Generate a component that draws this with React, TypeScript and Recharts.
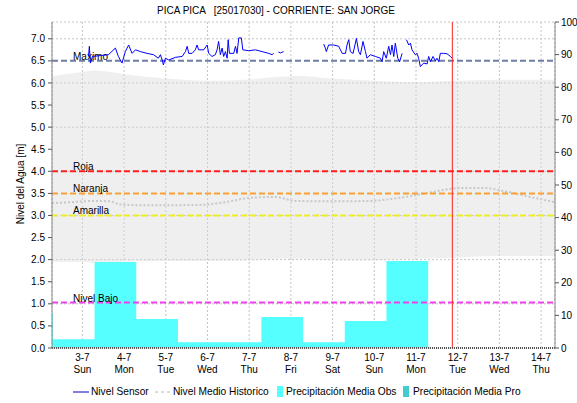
import {
  Area,
  CartesianGrid,
  ComposedChart,
  Line,
  ReferenceLine,
  XAxis,
  YAxis,
} from 'recharts'

// x axis is hours counted from 3-7 00:00
const dayTicks = [0, 24, 48, 72, 96, 120, 144, 168, 192, 216, 240, 264]
const dayLabels = ['3-7', '4-7', '5-7', '6-7', '7-7', '8-7', '9-7', '10-7', '11-7', '12-7', '13-7', '14-7']
const weekdayLabels = ['Sun', 'Mon', 'Tue', 'Wed', 'Thu', 'Fri', 'Sat', 'Sun', 'Mon', 'Tue', 'Wed', 'Thu']
const levelTicks = [0, 0.5, 1, 1.5, 2, 2.5, 3, 3.5, 4, 4.5, 5, 5.5, 6, 6.5, 7]
const precipTicks = [0, 10, 20, 30, 40, 50, 60, 70, 80, 90, 100]

// [hour, level m], null = no reading
const sensorReadings: [number, number | null][] = [
  [3.5, 6.6], [4.0, 6.83], [4.6, 6.45], [5.8, 6.6], [10.4, 6.62], [15.0, 6.64],
  [19.0, 6.79], [20.7, 6.6], [22.8, 6.45], [24.7, 6.71], [26.6, 6.86], [28.6, 6.67],
  [30.5, 6.75], [33.4, 6.71], [37.2, 6.67], [40.9, 6.64], [43.7, 6.56], [44.9, 6.64],
  [45.9, 6.52], [46.6, 6.41], [47.8, 6.56], [49.7, 6.52], [53.5, 6.58], [57.4, 6.6],
  [59.3, 6.71], [60.3, 6.83], [61.2, 6.67], [63.1, 6.67], [65.0, 6.75], [66.0, 6.86],
  [66.9, 6.75], [69.8, 6.75], [71.8, 6.86], [72.7, 6.67], [74.6, 6.6], [76.5, 6.64],
  [77.5, 6.75], [78.4, 6.94], [79.4, 6.64], [80.4, 6.79], [81.3, 6.6], [82.3, 6.71],
  [83.3, 6.56], [83.9, 6.98], [84.6, 6.67], [87.1, 6.67], [88.1, 6.83], [89.0, 6.67],
  [90.0, 7.02], [91.5, 7.02], [92.3, 6.75], [95.7, 6.73], [99.6, 6.75], [103.4, 6.71],
  [107.2, 6.67], [109.2, 6.64], [110.1, 6.67], [111.6, null], [112.8, 6.7], [114.0, 6.68],
  [115.8, 6.71], [127.0, null],
  [138.9, 6.88], [139.8, 6.79], [140.4, 6.71], [141.7, 6.86], [144.6, 6.86], [147.5, 6.83],
  [149.5, 6.67], [151.4, 6.67], [152.3, 6.86], [153.3, 6.98], [154.2, 6.71], [155.8, 6.67],
  [157.7, 7.01], [159.0, 6.71], [160.0, 6.64], [161.5, 6.94], [162.9, 6.71], [163.8, 6.56],
  [165.7, 6.64], [168.6, 6.6], [171.5, 6.56], [172.5, 6.48], [173.4, 6.71], [174.9, 6.56],
  [176.3, 6.83], [177.3, 6.64], [178.2, 6.86], [179.2, 6.6], [180.1, 6.9], [181.5, 6.56],
  [182.6, 6.48], [184.0, 6.67], [185.0, null], [186.5, 6.98], [187.8, 6.86], [188.8, 6.9],
  [189.7, 6.75], [191.6, 6.64], [192.6, 6.67], [193.5, 6.56], [194.5, 6.37], [196.4, 6.45],
  [198.4, 6.43], [199.3, 6.6], [200.3, 6.48], [201.8, 6.6], [203.2, 6.5], [204.1, 6.56],
  [205.1, 6.48], [206.0, 6.67], [207.9, 6.67], [209.9, 6.66], [211.8, 6.6], [212.8, 6.56],
]

const histHours = [-17.5, -7, 7, 16, 21.6, 39, 67.7, 82, 96.4, 111, 122.5, 142.6, 165.5, 182.7, 200, 217, 232, 243, 257.7, 272]
const histLevels = [3.28, 3.3, 3.33, 3.32, 3.25, 3.23, 3.24, 3.3, 3.4, 3.42, 3.33, 3.32, 3.33, 3.4, 3.52, 3.62, 3.62, 3.55, 3.42, 3.3]

// historical min / max envelope
const bandHours = [-17.5, 0, 7, 24, 48, 72, 96, 114, 124, 144, 168, 192, 216, 240, 272]
const bandLow = [1.95, 1.95, 1.93, 1.95, 1.97, 1.97, 1.98, 2.02, 2.02, 1.98, 1.98, 2.02, 2.05, 2.08, 2.08]
const bandHigh = [6.15, 6.25, 6.28, 6.2, 6.1, 6.05, 6.08, 6.14, 6.16, 6.1, 6.05, 6.02, 6.05, 6.07, 6.07]

// daily rain (mm), each value holds from its start hour (07h) to the next
const precipStartHours = [-17.5, -17, 7, 31, 55, 79, 103, 127, 151, 175, 199]
const precipObs = [10.7, 2.7, 26.4, 8.9, 1.8, 1.8, 9.5, 1.8, 8.3, 26.7, 0]

const thresholdNames = ['Maximo', 'Roja', 'Naranja', 'Amarilla', 'Nivel Bajo']
const thresholdLevels = [6.5, 4.0, 3.5, 3.0, 1.03]
const thresholdColors = ['#6f7ca6', '#ff1e1e', '#f7a035', '#eeee22', '#f040f0']

const nowHour = 212.9

const sensorData = sensorReadings.map(([h, level]) => ({ h, level }))
const histData = histHours.map((h, i) => ({ h, hist: histLevels[i] }))
const bandData = bandHours.map((h, i) => ({ h, range: [bandLow[i], bandHigh[i]] }))
const precipData = precipStartHours.map((h, i) => ({ h, mm: precipObs[i] }))

const xDomain = [-17.5, 272]

function DayTick({ x, y, payload }: any) {
  const i = dayTicks.indexOf(payload.value)
  return (
    <g>
      <text x={x} y={y + 13} textAnchor="middle" fontSize={10} fill="#000">
        {dayLabels[i]}
      </text>
      <text x={x} y={y + 25} textAnchor="middle" fontSize={10} fill="#000">
        {weekdayLabels[i]}
      </text>
    </g>
  )
}

function ThresholdLabel({ viewBox, text }: any) {
  if (!viewBox) return null
  return (
    <text x={viewBox.x + 21} y={viewBox.y - 1} fontSize={10} fill="#000">
      {text}
    </text>
  )
}

function LegendLine({ color, dash }: { color: string; dash?: string }) {
  return (
    <svg width={16} height={6} style={{ marginRight: 2 }}>
      <line x1={0} y1={3} x2={16} y2={3} stroke={color} strokeWidth={1} strokeDasharray={dash} />
    </svg>
  )
}

export default function App() {
  return (
    <div
      style={{
        position: 'absolute',
        left: 0,
        top: 0,
        width: 577,
        height: 403,
        background: '#fff',
        fontFamily: '"Liberation Sans", Arial, sans-serif',
      }}
    >
      <div
        style={{
          position: 'absolute',
          left: 0,
          width: 552,
          top: 5,
          textAlign: 'center',
          fontSize: 10,
          whiteSpace: 'pre',
        }}
      >
        {'PICA PICA   [25017030] - CORRIENTE: SAN JORGE'}
      </div>
      <div
        style={{
          position: 'absolute',
          left: 20,
          top: 184,
          transform: 'translate(-50%, -50%) rotate(-90deg)',
          fontSize: 10,
          whiteSpace: 'nowrap',
        }}
      >
        Nivel del Agua [m]
      </div>

      <ComposedChart width={577} height={403} margin={{ top: 22, right: 0, bottom: 25, left: 0 }}>
        <CartesianGrid yAxisId="left" stroke="#c4c4c4" strokeDasharray="2 2" />
        <XAxis
          type="number"
          dataKey="h"
          domain={xDomain}
          ticks={dayTicks}
          allowDataOverflow
          height={30}
          tickSize={0}
          tickMargin={0}
          tickLine={false}
          axisLine={{ stroke: '#555', strokeDasharray: '1 1', strokeWidth: 2 }}
          tick={(props: any) => <DayTick {...props} />}
        />
        <XAxis
          xAxisId="top"
          orientation="top"
          type="number"
          domain={xDomain}
          height={0}
          tick={false}
          tickLine={false}
          axisLine={{ stroke: '#888' }}
        />
        <YAxis
          yAxisId="left"
          type="number"
          domain={[0, 7.38]}
          ticks={levelTicks}
          allowDataOverflow
          width={52}
          tickSize={4}
          tickMargin={3}
          tickFormatter={(v: number) => v.toFixed(1)}
          tick={{ fontSize: 10, fill: '#000' }}
          tickLine={{ stroke: '#555' }}
          axisLine={{ stroke: '#888' }}
        />
        <YAxis
          yAxisId="right"
          orientation="right"
          type="number"
          domain={[0, 100]}
          ticks={precipTicks}
          width={22}
          tickSize={4}
          tickMargin={2}
          tick={{ fontSize: 10, fill: '#000' }}
          tickLine={{ stroke: '#555' }}
          axisLine={{ stroke: '#888' }}
        />

        <Area
          yAxisId="left"
          data={bandData}
          dataKey="range"
          type="monotone"
          stroke="none"
          fill="#d8d8d8"
          fillOpacity={0.42}
          isAnimationActive={false}
        />
        <Area
          yAxisId="right"
          data={precipData}
          dataKey="mm"
          type="stepAfter"
          stroke="none"
          fill="#55ffff"
          fillOpacity={1}
          isAnimationActive={false}
        />
        <Line
          yAxisId="left"
          data={histData}
          dataKey="hist"
          type="monotone"
          stroke="#c8c8c8"
          strokeWidth={2}
          strokeDasharray="2 2"
          dot={false}
          isAnimationActive={false}
        />
        {thresholdLevels.map((level, i) => (
          <ReferenceLine
            key={thresholdNames[i]}
            yAxisId="left"
            y={level}
            stroke={thresholdColors[i]}
            strokeWidth={2}
            strokeDasharray="6 3"
            label={<ThresholdLabel text={thresholdNames[i]} />}
          />
        ))}
        <Line
          yAxisId="left"
          data={sensorData}
          dataKey="level"
          type="linear"
          stroke="#0000ff"
          strokeWidth={1}
          dot={false}
          connectNulls={false}
          isAnimationActive={false}
        />
        <ReferenceLine yAxisId="left" x={nowHour} stroke="#ff2020" strokeWidth={1} />
      </ComposedChart>

      <div style={{ position: 'absolute', top: 386, left: 0, fontSize: 10.2, whiteSpace: 'nowrap' }}>
        <div style={{ position: 'absolute', left: 73, display: 'flex', alignItems: 'center' }}>
          <LegendLine color="#0000cc" />
          Nivel Sensor
        </div>
        <div style={{ position: 'absolute', left: 155, display: 'flex', alignItems: 'center' }}>
          <LegendLine color="#b8b8b8" dash="3 3" />
          Nivel Medio Historico
        </div>
        <div style={{ position: 'absolute', left: 277, display: 'flex', alignItems: 'center' }}>
          <span style={{ width: 6, height: 11, background: '#55ffff', marginRight: 3 }} />
          Precipitación Media Obs
        </div>
        <div style={{ position: 'absolute', left: 403, display: 'flex', alignItems: 'center' }}>
          <span style={{ width: 6, height: 11, background: '#44cccc', marginRight: 4 }} />
          Precipitación Media Pro
        </div>
      </div>
    </div>
  )
}
